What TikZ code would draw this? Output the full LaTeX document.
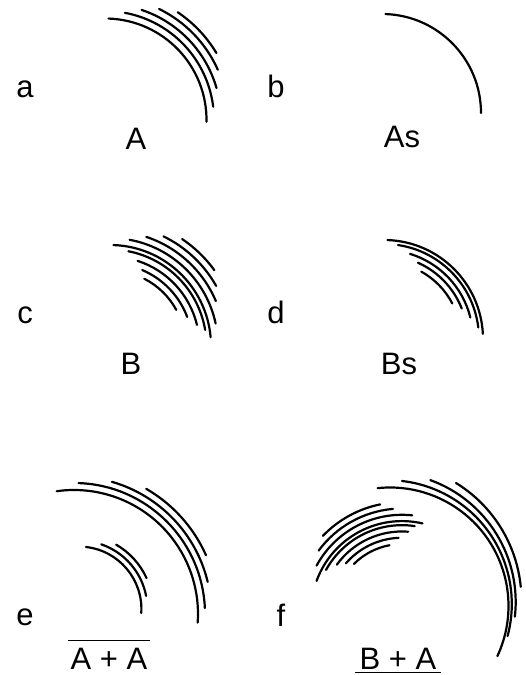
\documentclass[tikz,border=0pt]{standalone}
\usepackage{fontspec}
\setmainfont{Liberation Sans}
\usetikzlibrary{positioning}

\begin{document}
\begin{tikzpicture}[x=1pt, y=1pt]
    \tikzstyle{grain} = [line width=2.2pt, line cap=round]
    \tikzstyle{tag} = [font=\fontsize{31}{36}\selectfont, inner sep=0pt]
    \useasboundingbox (0,0) rectangle (526,675);

    % centres of the arc families
    \coordinate (ca) at (105,555);
    \coordinate (cb) at (382,562);
    \coordinate (cc) at (110,329);
    \coordinate (cd) at (384,336);
    \coordinate (ceo) at (74,61);
    \coordinate (cei) at (79,66);
    \coordinate (cfi) at (402,63);

    % a : A
    \foreach \r/\s/\e in {101.5/88/-1, 109/79.5/7, 116/71.6/16, 123.5/64/24, 130/56/31}
        \draw[grain] (ca) ++(\s:\r) arc[start angle=\s, end angle=\e, radius=\r];

    % b : As
    \draw[grain] (cb) ++(88:99) arc[start angle=88, end angle=0, radius=99];

    % c : B
    \foreach \r/\s/\e in {101/88/5, 108/79.5/12, 115/71.6/23, 122/64/29.5, 129/56/36,
                          96.5/79/9.6, 89.5/72/13.6, 82.5/67/20.6, 75.5/63/28.6}
        \draw[grain] (cc) ++(\s:\r) arc[start angle=\s, end angle=\e, radius=\r];

    % d : Bs
    \foreach \r/\s/\e in {99/88/3, 95/81.5/7, 89/73/14, 83.5/66/21.4, 77/61/27.5}
        \draw[grain] (cd) ++(\s:\r) arc[start angle=\s, end angle=\e, radius=\r];

    % e : A + A
    \foreach \r/\s/\e in {124/98/-4, 131/88/2.6, 137.5/74/13.5, 144.5/60/24}
        \draw[grain] (ceo) ++(\s:\r) arc[start angle=\s, end angle=\e, radius=\r];
    \foreach \r/\s/\e in {62.4/83.6/-3.7, 68.4/71/11, 74.3/60/24.5}
        \draw[grain] (cei) ++(\s:\r) arc[start angle=\s, end angle=\e, radius=\r];

    % f : B + A
    \foreach \cx/\cy/\r/\s/\e in {390/69/118.5/96/-25, 388/71/123.8/83.5/-15,
                                  386/73/129.7/70/-6.5, 384/75/137.4/58.4/5.5}
        \draw[grain] (\cx,\cy) ++(\s:\r) arc[start angle=\s, end angle=\e, radius=\r];
    \begin{scope}[shift={(cfi)}, rotate=72, scale=0.9]
        \foreach \r/\s/\e in {101/88/5, 108/79.5/12, 115/71.6/23, 122/64/29.5,
                              96.5/79/9.6, 89.5/72/13.6, 82.5/67/20.6, 75.5/63/28.6}
            \draw[grain] (0,0) ++(\s:\r) arc[start angle=\s, end angle=\e, radius=\r];
    \end{scope}

    % letters
    \node[tag] (la) at (25,586) {a};
    \node[tag] (lb) at (276,589) {b};
    \node[tag] (lc) at (25,360) {c};
    \node[tag] (ld) at (276,363) {d};
    \node[tag] (le) at (25,58) {e};
    \node[tag] (lf) at (281,60) {f};

    \node[tag] (ta) at (136,536) {A};
    \node[tag] (tb) at (402,538) {As};
    \node[tag] (tc) at (131,311) {B};
    \node[tag] (td) at (399,311) {Bs};

    \node[tag, inner xsep=2pt] (tapa) at (109,16) {A + A};
    \draw[line width=1.2pt] ([yshift=8pt]tapa.north west) -- ([yshift=8pt]tapa.north east);
    \node[tag, inner xsep=4pt, inner ysep=3pt] (tbpa) at (398,16) {B + A};
    \draw[line width=1.2pt] (tbpa.south west) -- (tbpa.south east);
\end{tikzpicture}
\end{document}
